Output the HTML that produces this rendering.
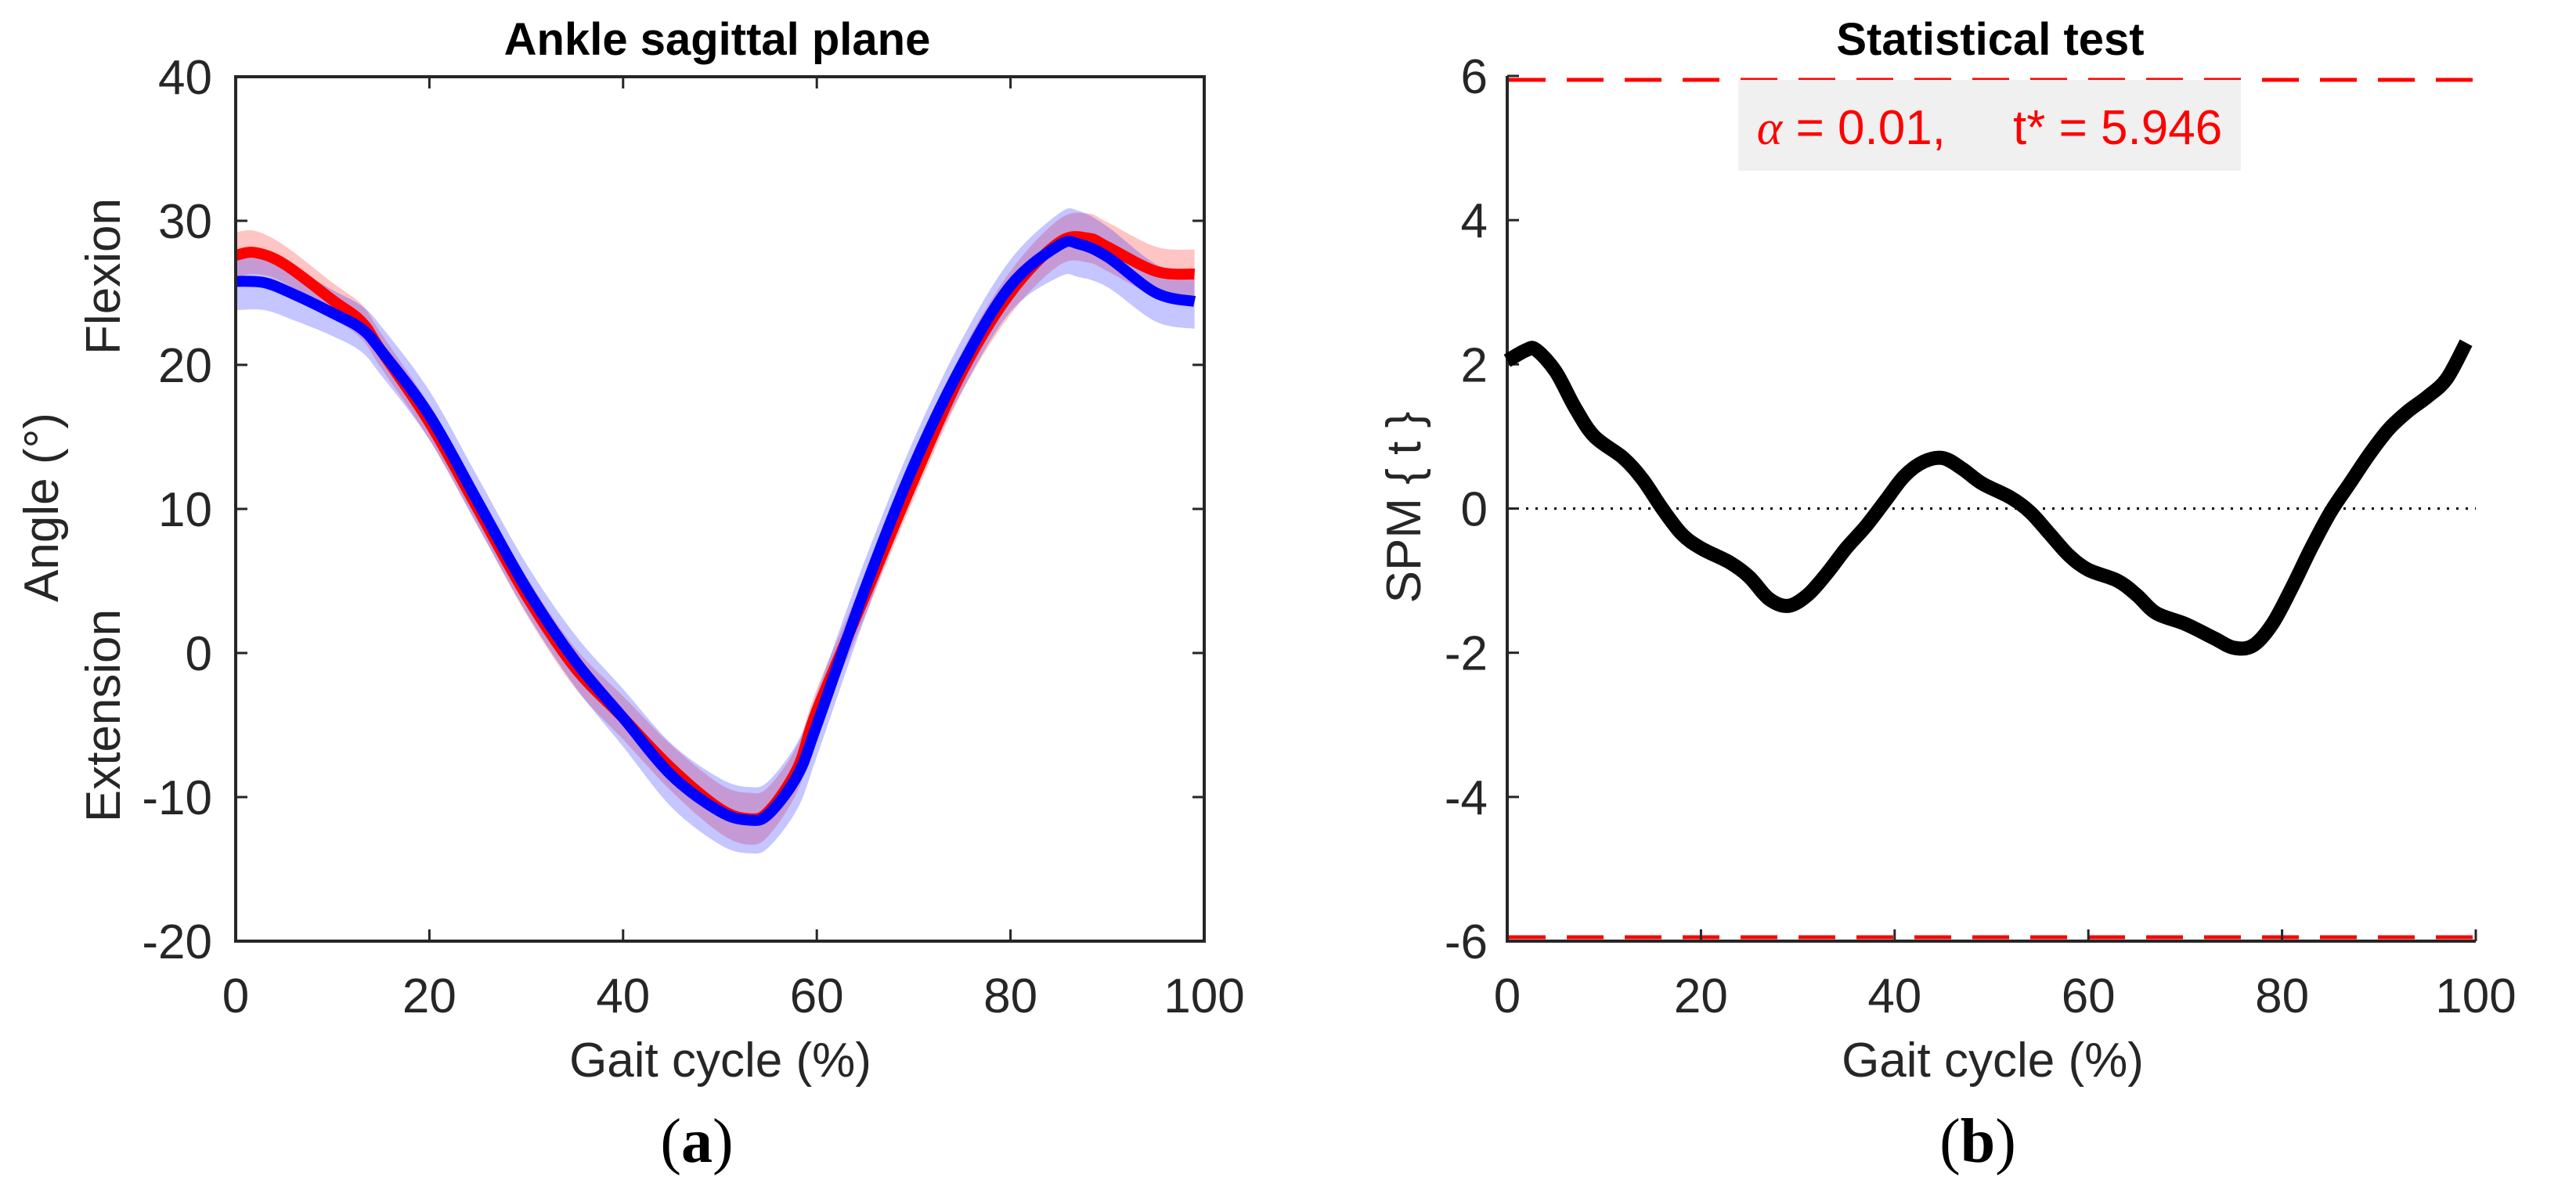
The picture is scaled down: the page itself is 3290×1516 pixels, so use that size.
<!DOCTYPE html>
<html><head><meta charset="utf-8"><style>
body{margin:0;background:#fff;}
svg{display:block;font-family:"Liberation Sans",Arial,sans-serif;}
</style></head><body>
<svg id="fig" width="3290" height="1516" viewBox="0 0 3290 1516">
<g id="left"></g>
<g id="right"></g>
</svg>
<script>
const xTicks=[0,20,40,60,80,100];
const angleTicks=[-20,-10,0,10,20,30,40];
const spmTicks=[-6,-4,-2,0,2,4,6];
const redX=[0,2,5,10,13,15,20,25,30,35,40,45,50,53,55,58,60,65,70,75,80,85,88,90,95,99];
const redY=[27.6,27.8,27,24.5,23,21,16,10,4,-1,-4.5,-8,-10.8,-11.5,-11,-8,-4,4,12,19.5,25,28.5,28.8,28.2,26.5,26.3];
const redSD=[1.6,1.5,1.3,1.2,1.2,1.2,1.2,1.2,1.3,1.4,1.5,1.6,1.7,1.8,1.7,1.6,1.5,1.4,1.3,1.4,1.5,1.6,1.7,1.7,1.7,1.7];
const blueX=[0,3,6,10,13,15,20,25,30,35,40,45,50,53,55,58,60,65,70,75,80,85,87,90,95,99];
const blueY=[25.8,25.7,24.9,23.6,22.5,21,16.5,10.5,4.5,-0.5,-4.5,-8.5,-11,-11.6,-11.2,-8.5,-5,4.5,13,20,25.5,28.3,28.4,27.5,25,24.4];
const blueSD=[2,1.9,1.8,1.6,1.6,1.7,1.7,1.7,1.7,1.8,2,2.2,2.3,2.3,2.3,2.3,2.2,2,1.8,1.8,1.8,2.2,2.3,2.1,2,1.9];
const spmX=[0,2,3,5,7,9,12,14,16,18,20,23,25,27,29,31,33,35,37,39,41,43,45,47,49,52,54,56,58,60,63,65,67,70,73,75,77,79,81,83,85,87,89,91,93,95,97,99];
const spmY=[2.05,2.2,2.2,1.9,1.4,1.0,0.7,0.4,0.0,-0.35,-0.55,-0.75,-0.95,-1.25,-1.35,-1.2,-0.9,-0.55,-0.25,0.1,0.45,0.65,0.7,0.55,0.35,0.15,-0.05,-0.35,-0.65,-0.85,-1.0,-1.2,-1.45,-1.6,-1.8,-1.93,-1.9,-1.6,-1.1,-0.55,-0.05,0.35,0.75,1.1,1.35,1.55,1.8,2.3];
const tStar=5.946;

const NS="http://www.w3.org/2000/svg";
function mk(tag,attrs,parent,text){const e=document.createElementNS(NS,tag);for(const k in attrs)e.setAttribute(k,attrs[k]);if(text!==undefined)e.textContent=text;parent.appendChild(e);return e;}
function smooth(pts){let d="M"+pts[0][0]+","+pts[0][1];for(let i=0;i<pts.length-1;i++){const p0=pts[Math.max(i-1,0)],p1=pts[i],p2=pts[i+1],p3=pts[Math.min(i+2,pts.length-1)];d+=" C"+(p1[0]+(p2[0]-p0[0])/6)+","+(p1[1]+(p2[1]-p0[1])/6)+" "+(p2[0]-(p3[0]-p1[0])/6)+","+(p2[1]-(p3[1]-p1[1])/6)+" "+p2[0]+","+p2[1];}return d;}
function smoothCont(pts){return smooth(pts).replace(/^M/,"L");}

// LEFT
const L=document.getElementById('left');
const lx=v=>301+(v/100)*(1538-301);
const ly=v=>98+(40-v)/60*(1202-98);
function band(xs,ys,sd,color,name){
  const up=xs.map((x,i)=>[lx(x),ly(ys[i]+sd[i])]);
  const lo=xs.map((x,i)=>[lx(x),ly(ys[i]-sd[i])]).reverse();
  const p=mk('path',{d:smooth(up)+" "+smoothCont(lo)+" Z",fill:color,stroke:'none'},L);
  
  
}
band(redX,redY,redSD,'rgba(255,60,60,0.3)','red-sd-band');
band(blueX,blueY,blueSD,'rgba(40,40,255,0.27)','blue-sd-band');
let rl=mk('path',{d:smooth(redX.map((x,i)=>[lx(x),ly(redY[i])])),fill:'none',stroke:'#ff0000','stroke-width':14},L);


let bl=mk('path',{d:smooth(blueX.map((x,i)=>[lx(x),ly(blueY[i])])),fill:'none',stroke:'#0000ff','stroke-width':14},L);


let lb=mk('rect',{x:301,y:98,width:1237,height:1104,fill:'none',stroke:'#262626','stroke-width':4},L);


xTicks.forEach(t=>{
  mk('line',{x1:lx(t),x2:lx(t),y1:1202,y2:1187,stroke:'#262626','stroke-width':3},L);
  mk('line',{x1:lx(t),x2:lx(t),y1:98,y2:113,stroke:'#262626','stroke-width':3},L);
  const e=mk('text',{x:lx(t),y:1293,'text-anchor':'middle','font-size':62,fill:'#262626'},L,String(t));
  
  
});
angleTicks.forEach(t=>{
  mk('line',{x1:301,x2:316,y1:ly(t),y2:ly(t),stroke:'#262626','stroke-width':3},L);
  mk('line',{x1:1538,x2:1523,y1:ly(t),y2:ly(t),stroke:'#262626','stroke-width':3},L);
  const e=mk('text',{x:271,y:ly(t)+22,'text-anchor':'end','font-size':62,fill:'#262626'},L,String(t));
  
  
});
</script>
<script>
(function(){
const svg=document.getElementById('fig');
function T(x,y,txt,size,name,extra){const e=document.createElementNS("http://www.w3.org/2000/svg",'text');e.setAttribute('x',x);e.setAttribute('y',y);e.setAttribute('font-size',size);e.setAttribute('fill','#262626');e.setAttribute('text-anchor','middle');if(extra)for(const k in extra)e.setAttribute(k,extra[k]);e.textContent=txt;svg.appendChild(e);return e;}
T(916,70,'Ankle sagittal plane',58,'left-title',{'font-weight':'bold',fill:'#000'});
T(920,1375,'Gait cycle (%)',62,'left-x-axis-title');
T(52,670,'Angle (°)',62,'left-y-axis-title',{transform:'rotate(-90 52 648)'});
T(131,375,'Flexion',62,'flexion-label',{transform:'rotate(-90 131 353)'});
T(131,936,'Extension',62,'extension-label',{transform:'rotate(-90 131 914)'});
const a=T(890,1484,'',80,'panel-a-label',{'font-family':'Liberation Serif,serif',fill:'#000'});
a.innerHTML='(<tspan font-weight="bold">a</tspan>)';
T(2542,70,'Statistical test',58,'right-title',{'font-weight':'bold',fill:'#000'});
T(2545,1375,'Gait cycle (%)',62,'right-x-axis-title');
T(1792,670,'SPM { t }',62,'right-y-axis-title',{transform:'rotate(-90 1792 648)'});
const b=T(2526,1484,'',80,'panel-b-label',{'font-family':'Liberation Serif,serif',fill:'#000'});
b.innerHTML='(<tspan font-weight="bold">b</tspan>)';
})();
</script>
<script>
const R=document.getElementById('right');
const rx=v=>1925+(v/100)*(3162-1925);
const ry=v=>97+(6-v)/12*(1202-97);
function el(tag,attrs,parent,text){const e=document.createElementNS("http://www.w3.org/2000/svg",tag);for(const k in attrs)e.setAttribute(k,attrs[k]);if(text!==undefined)e.textContent=text;parent.appendChild(e);return e;}
let zl=el('line',{x1:rx(0),x2:rx(100),y1:ry(0),y2:ry(0),stroke:'#000','stroke-width':3,'stroke-dasharray':'3 9'},R);


[tStar,-tStar].forEach(v=>{
  const d=el('line',{x1:rx(0)+2,x2:rx(100),y1:ry(v),y2:ry(v),stroke:'#ff0000','stroke-width':5,'stroke-dasharray':'47 27'},R);
  
  
});
let ax=el('path',{d:`M${rx(0)},${ry(6)} V${ry(-6)} H${rx(100)}`,fill:'none',stroke:'#262626','stroke-width':4},R);


xTicks.forEach(t=>{
  el('line',{x1:rx(t),x2:rx(t),y1:1202,y2:1187,stroke:'#262626','stroke-width':3},R);
  const e=el('text',{x:rx(t),y:1293,'text-anchor':'middle','font-size':62,fill:'#262626'},R,String(t));
  
  
});
spmTicks.forEach(t=>{
  el('line',{x1:1925,x2:1940,y1:ry(t),y2:ry(t),stroke:'#262626','stroke-width':3},R);
  const e=el('text',{x:1900,y:ry(t)+22,'text-anchor':'end','font-size':62,fill:'#262626'},R,String(t));
  
  
});
let sp=el('path',{d:smooth(spmX.map((x,i)=>[rx(x),ry(spmY[i])])),fill:'none',stroke:'#000','stroke-width':18,'stroke-linejoin':'round'},R);


let box=el('rect',{x:2220,y:102,width:642,height:116,fill:'#f0f0f0'},R);


let at=el('text',{x:2541,y:184,'text-anchor':'middle','font-size':62,fill:'#ff0000',style:'white-space:pre'},R);
at.innerHTML='<tspan font-family="Liberation Serif,serif" font-style="italic">α</tspan> = 0.01,     t* = '+tStar;


</script>
</body></html>
